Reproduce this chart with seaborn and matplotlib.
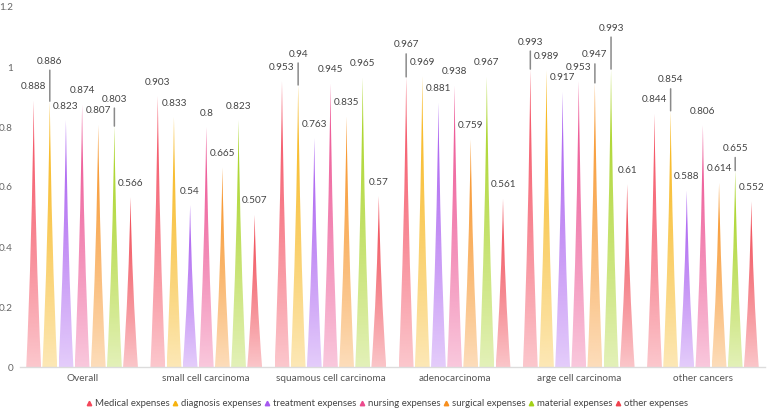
import numpy as np
import pandas as pd
import matplotlib
matplotlib.use("Agg")
import matplotlib.pyplot as plt
from matplotlib.path import Path
from matplotlib.patches import PathPatch
from matplotlib.lines import Line2D
from matplotlib.colors import to_rgb
import seaborn as sns

# -------------------- DATA --------------------
categories = ["Overall", "small cell carcinoma", "squamous cell carcinoma",
              "adenocarcinoma", "arge cell carcinoma", "other cancers"]
series = ["Medical expenses", "diagnosis expenses", "treatment expenses",
          "nursing expenses", "surgical expenses", "material expenses", "other expenses"]

medical = [0.888, 0.903, 0.953, 0.967, 0.993, 0.844]
diagnosis = [0.886, 0.833, 0.94, 0.969, 0.989, 0.854]
treatment = [0.823, 0.54, 0.763, 0.881, 0.917, 0.588]
nursing = [0.874, 0.8, 0.945, 0.938, 0.953, 0.806]
surgical = [0.807, 0.665, 0.835, 0.759, 0.947, 0.614]
material = [0.803, 0.823, 0.965, 0.967, 0.993, 0.655]
other = [0.566, 0.507, 0.57, 0.561, 0.61, 0.552]

values = [medical, diagnosis, treatment, nursing, surgical, material, other]
colors = ["#f4475a", "#f7b30f", "#a659f0", "#ec4a8d", "#f78f1e", "#a3d117", "#f0424e"]

# labels pushed up with a leader line (category index, series index) -> pixels above tip
label_lift = {(0, 1): 40, (0, 5): 27, (2, 1): 31, (3, 0): 32,
              (4, 0): 27, (4, 4): 28, (4, 5): 41, (5, 1): 31, (5, 5): 22}

df = pd.DataFrame({
    "category": np.tile(categories, len(series)),
    "series": np.repeat(series, len(categories)),
    "value": np.concatenate(values),
})

# -------------------- STYLE --------------------
sns.set_theme(style="white")
plt.rcParams["font.family"] = ["Lato", "DejaVu Sans"]
FS = 7.2

fig = plt.figure(figsize=(7.67, 4.15), dpi=100)
ax = fig.add_axes([20 / 767, 1 - 367 / 415, 745 / 767, 360 / 415])

sns.barplot(data=df, x="category", y="value", hue="series", hue_order=series,
            order=categories, palette=colors, width=0.91, ax=ax, legend=False,
            errorbar=None)


def spike_path(c, w, h):
    verts = [(c - w, 0), (c + w, 0),
             (c + 0.5 * w, 0.3 * h), (c + 0.15 * w, 0.65 * h), (c, h),
             (c - 0.15 * w, 0.65 * h), (c - 0.5 * w, 0.3 * h), (c - w, 0),
             (c - w, 0)]
    codes = [Path.MOVETO, Path.LINETO,
             Path.CURVE4, Path.CURVE4, Path.CURVE4,
             Path.CURVE4, Path.CURVE4, Path.CURVE4,
             Path.CLOSEPOLY]
    return Path(verts, codes)


# -------------------- SPIKES --------------------
for si, container in enumerate(ax.containers):
    rgb = to_rgb(colors[si])
    grad = np.zeros((100, 1, 4))
    grad[:, 0, :3] = rgb
    grad[:, 0, 3] = np.linspace(0.25, 1.0, 100) ** 0.85
    for ci, bar in enumerate(container):
        bar.set_visible(False)
        x0, bw, h = bar.get_x(), bar.get_width(), bar.get_height()
        cx = x0 + bw / 2
        w = bw * 0.46
        patch = PathPatch(spike_path(cx, w, h), facecolor="none", edgecolor="none")
        ax.add_patch(patch)
        im = ax.imshow(grad, extent=[cx - w, cx + w, 0, h], origin="lower",
                       aspect="auto", zorder=2, interpolation="bilinear")
        im.set_clip_path(patch)

        lift = label_lift.get((ci, si), 14)
        ax.annotate(f"{values[si][ci]:g}", (cx, h), xytext=(0, lift),
                    textcoords="offset pixels", ha="center", va="center",
                    fontsize=FS, color="#444444", zorder=4)
        if (ci, si) in label_lift:
            ax.annotate("", xy=(cx, h), xytext=(0, lift - 9), textcoords="offset pixels",
                        arrowprops=dict(arrowstyle="-", color="#8a8a8a", lw=1.1,
                                        shrinkA=0, shrinkB=0), zorder=3)

ax.set_xlim(-0.5, 5.5)
ax.set_ylim(0, 1.2)
ax.set_yticks(np.arange(0, 1.21, 0.2))
ax.set_yticklabels(["0", "0.2", "0.4", "0.6", "0.8", "1", "1.2"])
ax.set_xlabel("")
ax.set_ylabel("")
ax.tick_params(axis="y", length=0, pad=5, labelsize=FS, labelcolor="#666666")
ax.tick_params(axis="x", length=0, pad=5, labelsize=FS, labelcolor="#555555")
ax.grid(False)
for s in ["left", "top", "right"]:
    ax.spines[s].set_visible(False)
ax.spines["bottom"].set_color("#dcdcdc")
ax.spines["bottom"].set_linewidth(1)

# -------------------- LEGEND --------------------
handles = [Line2D([], [], marker="^", color=c, markersize=3.2, linestyle="None")
           for c in colors]
fig.legend(handles, series, loc="center", bbox_to_anchor=(0.505, 0.027), ncol=7,
           frameon=False, fontsize=6.9, handlelength=0.55, handletextpad=0.3,
           columnspacing=0.35, labelcolor="#444444")

fig.savefig("out.png", dpi=100)
